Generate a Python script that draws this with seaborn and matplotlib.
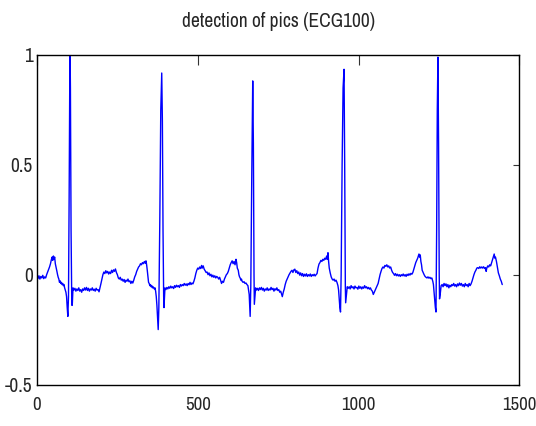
import numpy as np
import pandas as pd
import matplotlib
matplotlib.use("Agg")
import matplotlib.pyplot as plt
import seaborn as sns

# ECG100 trace (sample index, normalised amplitude)
samples = [
    0, 3, 6, 9, 12, 15, 18, 21, 24, 27, 30, 33, 36, 39, 42, 45, 47, 49, 51, 53, 55, 57, 60, 62, 64, 66, 68, 70, 72, 74,
    76, 78, 80, 82, 84, 86, 88, 90, 92, 94, 96, 98, 100, 102, 103, 104, 106, 108, 109, 110, 112,
    115, 118, 121, 124, 127, 130, 133, 136, 139, 142, 145, 148, 151, 154, 157, 160, 163, 166, 169, 172, 175, 178, 181,
    184, 187, 190, 193, 196, 199, 202, 205, 208, 211, 214, 217, 220, 223, 226, 229, 232, 235, 238, 241, 244, 247, 250,
    253, 256, 259, 262, 265, 268, 271, 274, 277, 280, 283, 286, 289, 292, 295, 298, 301, 304, 307, 310, 313, 316, 319,
    322, 325, 328, 331, 334, 337, 339, 341, 343, 345, 347, 349, 351, 353, 355, 357, 359, 361, 363, 365, 367, 369, 371,
    373, 375, 377, 379, 382, 385, 388, 390, 392, 394, 395, 396, 398,
    401, 404, 407, 410, 413, 416, 419, 422, 425, 428, 431, 434, 437, 440, 443, 446, 449, 452, 455, 458, 461, 464, 467,
    470, 473, 476, 479, 482, 485, 488, 491, 494, 497, 500, 503, 506, 509, 512, 514, 517, 520, 523, 526, 529, 532, 535,
    538, 541, 544, 547, 550, 553, 556, 559, 562, 565, 568, 571, 574, 577, 580, 583, 586, 589, 592, 595, 598, 601, 604,
    607, 610, 613, 616, 619, 621, 623, 626, 628, 630, 632, 634, 636, 638, 641, 644, 647, 650, 653, 656, 658, 660, 662,
    663, 665, 668, 671, 673, 675, 676, 678, 680,
    683, 686, 689, 692, 695, 698, 701, 704, 707, 710, 713, 716, 719, 722, 725, 728, 731, 734, 737, 740, 743, 746, 749,
    752, 755, 758, 761, 763, 766, 769, 772, 775, 778, 781, 784, 787, 790, 793, 796, 799, 802, 805, 808, 811, 814, 817,
    820, 823, 826, 829, 832, 835, 838, 841, 844, 847, 850, 853, 856, 859, 862, 865, 868, 871, 874, 877, 880, 883, 886,
    889, 892, 895, 898, 901, 903, 905, 907, 909, 912, 915, 918, 921, 924, 927, 930, 933, 936, 938, 940, 942, 944, 946,
    949, 952, 955, 957, 959, 960, 962, 965,
    968, 971, 974, 977, 980, 983, 986, 989, 992, 995, 998, 1001, 1004, 1007, 1010, 1013, 1016, 1019, 1022, 1025, 1028,
    1031, 1034, 1037, 1040, 1043, 1046, 1049, 1052, 1055, 1058, 1061, 1064, 1067, 1070, 1073, 1076, 1079, 1082, 1085,
    1088, 1091, 1094, 1097, 1100, 1103, 1106, 1109, 1112, 1115, 1118, 1121, 1124, 1127, 1130, 1133, 1136, 1139, 1142,
    1145, 1148, 1151, 1154, 1157, 1160, 1163, 1166, 1169, 1172, 1175, 1178, 1181, 1184, 1186, 1188, 1190, 1192, 1194,
    1196, 1198, 1201, 1204, 1207, 1210, 1213, 1216, 1219, 1222, 1225, 1228, 1231, 1233, 1235, 1237, 1239, 1241, 1243,
    1245, 1247, 1249, 1251, 1252, 1254, 1257,
    1260, 1263, 1266, 1269, 1272, 1275, 1278, 1281, 1284, 1287, 1290, 1293, 1296, 1299, 1302, 1305, 1308, 1311, 1314,
    1317, 1320, 1323, 1326, 1329, 1332, 1335, 1338, 1341, 1344, 1347, 1350, 1353, 1356, 1359, 1362, 1365, 1368, 1371,
    1374, 1377, 1380, 1383, 1386, 1389, 1392, 1395, 1397, 1399, 1402, 1405, 1408, 1411, 1414, 1417, 1420, 1422, 1424,
    1426, 1429, 1432, 1435, 1438, 1441, 1444, 1447,
]

amplitude = [
    -0.012, -0.018, -0.005, -0.02, -0.008, -0.015, -0.003, -0.018, -0.01, -0.015, 0.0, 0.012, 0.025, 0.035, 0.05, 0.07,
    0.08, 0.065, 0.085, 0.07, 0.08, 0.05, 0.03, 0.015, 0.0, -0.012, -0.02, -0.035, -0.028, -0.04,
    -0.035, -0.045, -0.04, -0.05, -0.045, -0.06, -0.07, -0.08, -0.1, -0.15, -0.19, -0.1, 0.35, 0.9, 1.0, 0.85, 0.2,
    -0.1, -0.14, -0.13, -0.06,
    -0.07, -0.062, -0.075, -0.065, -0.072, -0.06, -0.075, -0.068, -0.08, -0.065, -0.072, -0.06, -0.07, -0.058, -0.072,
    -0.062, -0.075, -0.065, -0.07, -0.06, -0.072, -0.066, -0.075,
    -0.062, -0.07, -0.068, -0.078, -0.06, -0.04, -0.02, 0.0, 0.012, 0.005, 0.018, 0.008, 0.015, 0.003, 0.012, 0.005,
    0.02, 0.01, 0.022, 0.015, 0.026, 0.01, 0.0,
    -0.015, -0.02, -0.012, -0.025, -0.02, -0.03, -0.022, -0.035, -0.025, -0.03, -0.02, -0.032, -0.028, -0.04, -0.03,
    -0.038, -0.025, -0.01, 0.0, 0.015, 0.025, 0.035, 0.04,
    0.05, 0.045, 0.055, 0.05, 0.06, 0.052, 0.063, 0.045, 0.02, -0.01, -0.035, -0.04, -0.05, -0.045, -0.055, -0.05,
    -0.06, -0.055, -0.06, -0.065, -0.06, -0.075, -0.1,
    -0.14, -0.2, -0.25, -0.15, 0.25, 0.75, 0.918, 0.7, 0.2, -0.1, -0.15, -0.12, -0.06,
    -0.068, -0.058, -0.065, -0.055, -0.062, -0.052, -0.06, -0.055, -0.063, -0.05, -0.058, -0.048, -0.055, -0.05,
    -0.058, -0.045, -0.052, -0.045, -0.05, -0.04, -0.048, -0.042, -0.05,
    -0.04, -0.046, -0.035, -0.045, -0.038, -0.042, -0.03, -0.015, 0.005, 0.02, 0.03, 0.025, 0.035, 0.028, 0.042,
    0.03, 0.04, 0.025, 0.018, 0.01, 0.012, 0.0, 0.008,
    -0.005, 0.002, -0.01, -0.002, -0.012, -0.005, -0.015, -0.008, -0.012, -0.02, -0.012, -0.025, -0.04, -0.03, -0.035,
    -0.02, -0.01, 0.0, 0.005, 0.015, 0.03, 0.045, 0.055,
    0.063, 0.05, 0.06, 0.045, 0.07, 0.055, 0.03, 0.02, 0.0, -0.01, -0.015, -0.025, -0.02, -0.03, -0.035, -0.032, -0.04,
    -0.038, -0.045, -0.05, -0.07, -0.09, -0.15,
    -0.19, -0.05, 0.45, 0.882, 0.6, 0.0, -0.135, -0.1, -0.06,
    -0.07, -0.062, -0.072, -0.06, -0.068, -0.058, -0.07, -0.062, -0.075, -0.065, -0.07, -0.06, -0.072, -0.065, -0.07,
    -0.058, -0.068, -0.062, -0.075, -0.064, -0.07, -0.06, -0.072,
    -0.068, -0.08, -0.075, -0.09, -0.1, -0.08, -0.065, -0.045, -0.03, -0.02, -0.01, 0.0, 0.008, 0.015, 0.02, 0.01,
    0.022, 0.025, 0.01, 0.018, 0.005, 0.012, -0.002,
    0.008, -0.005, 0.005, -0.008, 0.002, -0.006, 0.004, -0.008, 0.0, -0.006, 0.003, -0.008, 0.0, -0.005, 0.002,
    -0.006, 0.0, 0.005, 0.03, 0.048, 0.055, 0.065, 0.06,
    0.07, 0.065, 0.075, 0.07, 0.085, 0.07, 0.1, 0.06, 0.03, 0.008, -0.01, -0.02, -0.025, -0.02, -0.03, -0.025, -0.035,
    -0.05, -0.07, -0.11, -0.15, -0.17, 0.0,
    0.5, 0.85, 0.935, 0.5, -0.05, -0.128, -0.1, -0.055,
    -0.062, -0.055, -0.065, -0.05, -0.06, -0.055, -0.065, -0.052, -0.06, -0.058, -0.066, -0.052, -0.062, -0.055,
    -0.065, -0.056, -0.062, -0.05, -0.06, -0.055, -0.064,
    -0.058, -0.066, -0.06, -0.07, -0.075, -0.09, -0.08, -0.07, -0.06, -0.05, -0.04, -0.02, 0.0, 0.015, 0.028, 0.035,
    0.03, 0.042, 0.038,
    0.045, 0.035, 0.04, 0.03, 0.035, 0.02, 0.01, 0.005, -0.003, 0.005, -0.005, 0.002, -0.006, 0.0, -0.008, 0.0, -0.005,
    0.003, -0.006,
    0.0, -0.008, 0.002, -0.004, 0.004, -0.002, 0.006, 0.002, 0.01, 0.025, 0.04, 0.055, 0.065, 0.075, 0.085, 0.094,
    0.08, 0.09, 0.06,
    0.045, 0.02, 0.01, 0.0, -0.008, -0.012, -0.015, -0.01, -0.016, -0.012, -0.018, -0.015, -0.03, -0.045, -0.08,
    -0.12, -0.15, -0.17, 0.2,
    0.75, 0.99, 0.6, 0.0, -0.11, -0.09, -0.05,
    -0.045, -0.055, -0.04, -0.05, -0.042, -0.055, -0.045, -0.06, -0.048, -0.055, -0.045, -0.05, -0.04, -0.052, -0.045,
    -0.055, -0.042, -0.05, -0.038,
    -0.048, -0.04, -0.052, -0.045, -0.055, -0.04, -0.05, -0.045, -0.055, -0.04, -0.05, -0.042, -0.03, -0.015, 0.0,
    0.012, 0.02, 0.03, 0.032,
    0.028, 0.036, 0.03, 0.035, 0.03, 0.036, 0.028, 0.032, 0.015, 0.03, 0.04, 0.035, 0.045, 0.04, 0.055, 0.07, 0.085,
    0.094, 0.075,
    0.08, 0.06, 0.035, 0.008, -0.005, -0.02, -0.03, -0.045,
]

x_ticks = [0, 500, 1000, 1500]
y_ticks = [-0.5, 0, 0.5, 1]
y_tick_labels = ["-0.5", "0", "0.5", "1"]

sns.set_style("white")
plt.rcParams["font.family"] = ["Archivo Narrow", "Liberation Sans", "DejaVu Sans"]

df = pd.DataFrame({"sample": samples, "ecg": amplitude})

fig = plt.figure(figsize=(5.36, 4.26), dpi=100)
ax = fig.add_axes([0.069, 0.0974, 0.8998, 0.7735])

sns.lineplot(data=df, x="sample", y="ecg", color="#0000ff", linewidth=1.0, ax=ax, sort=False)

ax.set_xlim(0, 1500)
ax.set_ylim(-0.5, 1)
ax.set_xticks(x_ticks)
ax.set_yticks(y_ticks)
ax.set_yticklabels(y_tick_labels)
ax.set_xlabel("")
ax.set_ylabel("")
ax.tick_params(axis="x", direction="in", length=7, width=0.8, color="#333333", labelsize=13.5,
               top=True, pad=9)
ax.tick_params(axis="y", direction="in", length=4.5, width=0.8, color="#333333", labelsize=14,
               right=True, pad=3)
for s in ax.spines.values():
    s.set_color("black")
    s.set_linewidth(1.0)
ax.set_title("detection of pics (ECG100)", fontsize=14, pad=20)

fig.savefig("out.png", dpi=100)
